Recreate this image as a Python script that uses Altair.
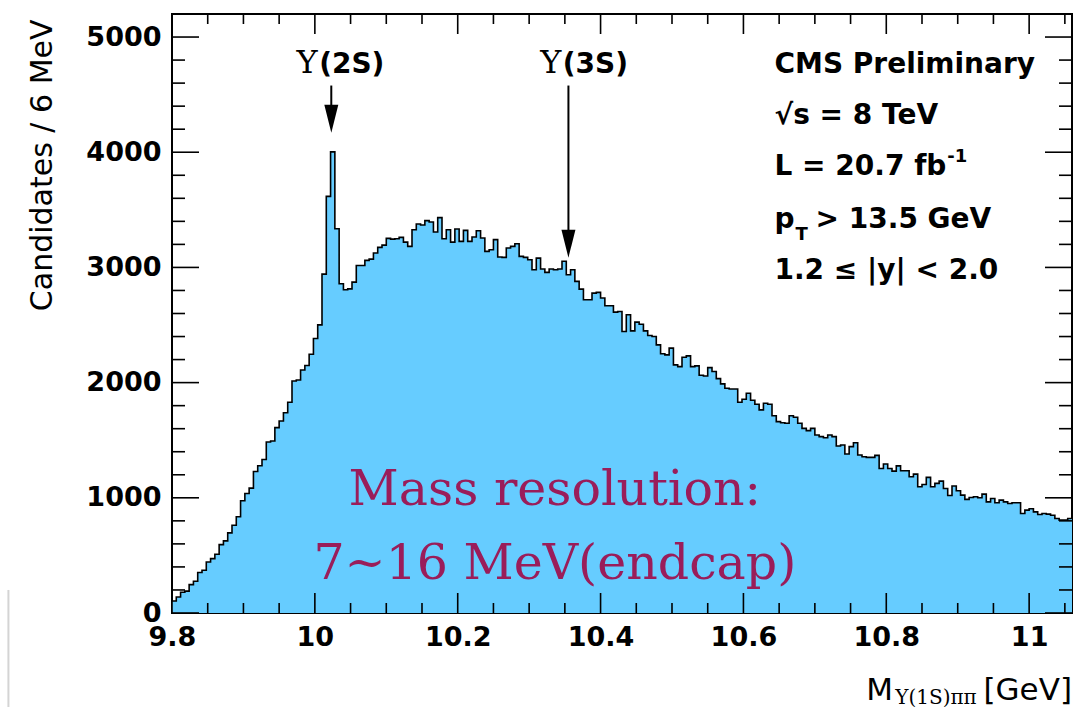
import altair as alt
import pandas as pd

# ---------------- data ----------------
bin_start = 9.8          # GeV
bin_width = 0.006        # GeV (6 MeV bins)

counts = [
    104, 139, 180, 190, 246, 275, 351, 371, 443, 472,
    510, 594, 626, 696, 762, 835, 974, 1038, 1084, 1229,
    1278, 1333, 1484, 1493, 1609, 1667, 1739, 1829, 2014, 2023,
    2110, 2148, 2246, 2383, 2501, 2942, 3617, 4003, 3336, 2858,
    2806, 2814, 2872, 3017, 3017, 3061, 3072, 3125, 3174, 3194,
    3252, 3246, 3249, 3261, 3220, 3183, 3327, 3377, 3368, 3406,
    3394, 3307, 3432, 3249, 3327, 3220, 3333, 3226, 3322, 3226,
    3264, 3319, 3255, 3139, 3154, 3241, 3090, 3087, 3168, 3183,
    3206, 3096, 3087, 3067, 2980, 3081, 2986, 2957, 2986, 2980,
    2986, 3053, 2937, 2980, 2879, 2812, 2719, 2719, 2777, 2783,
    2734, 2667, 2667, 2612, 2617, 2444, 2589, 2449, 2525, 2507,
    2449, 2409, 2400, 2328, 2250, 2241, 2299, 2154, 2139, 2220,
    2232, 2139, 2145, 2064, 2058, 2130, 2096, 2035, 1989, 1951,
    1945, 1945, 1830, 1856, 1908, 1847, 1812, 1763, 1821, 1812,
    1713, 1661, 1652, 1647, 1713, 1699, 1647, 1603, 1583, 1603,
    1545, 1531, 1522, 1545, 1531, 1450, 1458, 1380, 1444, 1478,
    1371, 1357, 1351, 1351, 1368, 1255, 1293, 1255, 1232, 1277,
    1235, 1235, 1183, 1206, 1096, 1116, 1177, 1096, 1125, 1145,
    1081, 1020, 1102, 1061, 1023, 986, 1003, 1009, 1000, 1032,
    965, 994, 957, 980, 965, 951, 957, 957, 864, 893,
    905, 878, 855, 864, 858, 849, 820, 806, 806, 820,
]

x_major = [9.8, 10.0, 10.2, 10.4, 10.6, 10.8, 11.0]
x_minor = [9.85, 9.9, 9.95, 10.05, 10.1, 10.15, 10.25, 10.3, 10.35, 10.45, 10.5,
           10.55, 10.65, 10.7, 10.75, 10.85, 10.9, 10.95, 11.05]
y_major = [0, 1000, 2000, 3000, 4000, 5000]
y_minor = [200, 400, 600, 800, 1200, 1400, 1600, 1800, 2200, 2400, 2600, 2800,
           3200, 3400, 3600, 3800, 4200, 4400, 4600, 4800, 5200]

peak_names = ["(2S)", "(3S)"]
peak_mass = [10.023, 10.355]

cms_lines = ["CMS Preliminary", "\u221as = 8 TeV", "L = 20.7 fb", "p", "1.2 \u2264 |y| < 2.0"]

# ---------------- layout ----------------
W, H = 900, 599
xs = alt.Scale(domain=[9.8, 11.06], nice=False, zero=False)
ys = alt.Scale(domain=[0, 5200], nice=False, zero=True)

edges = [round(bin_start + bin_width * i, 3) for i in range(len(counts) + 1)]
hist = pd.DataFrame({"x": edges, "y": counts + [counts[-1]]})

SANS = "DejaVu Sans"
SERIF = "DejaVu Serif"

x_axis = alt.Axis(values=x_major, format="~g", title=None, ticks=False, tickSize=0,
                  domain=False, grid=False, labelPadding=11, labelFont=SANS,
                  labelFontWeight="bold", labelFontSize=27, labelColor="black",
                  labelFlush=False, labelOverlap=False, labelBound=False)
y_axis = alt.Axis(values=y_major, format="d", title="Candidates / 6 MeV", ticks=False,
                  tickSize=0, domain=False, grid=False, labelPadding=11, labelFont=SANS,
                  labelFontWeight="bold", labelFontSize=27, labelColor="black",
                  labelFlush=False, labelOverlap=False, labelBound=False,
                  titleFont=SANS, titleFontSize=30, titleFontWeight="normal",
                  titleColor="black", titleAngle=270, titleAlign="right",
                  titleBaseline="alphabetic", titleX=-121, titleY=5)

area = alt.Chart(hist).mark_area(interpolate="step-after", color="#66ccff", opacity=1).encode(
    x=alt.X("x:Q", scale=xs, axis=x_axis),
    y=alt.Y("y:Q", scale=ys, axis=y_axis),
)
outline = alt.Chart(hist).mark_line(interpolate="step-after", color="black",
                                    strokeWidth=1.6).encode(
    x=alt.X("x:Q", scale=xs), y=alt.Y("y:Q", scale=ys))


def xticks(vals, length, top):
    y0, y1 = (0, length) if top else (H, H - length)
    return alt.Chart(pd.DataFrame({"x": vals})).mark_rule(color="black", strokeWidth=1.6).encode(
        x=alt.X("x:Q", scale=xs), y=alt.value(y0), y2=alt.value(y1))


def yticks(vals, length, right):
    x0, x1 = (W, W - length) if right else (0, length)
    return alt.Chart(pd.DataFrame({"y": vals})).mark_rule(color="black", strokeWidth=1.6).encode(
        y=alt.Y("y:Q", scale=ys), x=alt.value(x0), x2=alt.value(x1))


ticks = [
    xticks(x_major, 20, False), xticks(x_minor, 10, False),
    xticks(x_major, 20, True), xticks(x_minor, 10, True),
    yticks(y_major, 27, False), yticks(y_minor, 13, False),
    yticks(y_major, 27, True), yticks(y_minor, 13, True),
]


def text(rows, **kw):
    df = pd.DataFrame(rows, columns=["x", "y", "t"])
    base = dict(color="black", baseline="alphabetic", align="left")
    base.update(kw)
    return alt.Chart(df).mark_text(**base).encode(
        x=alt.X("x:Q", scale=xs), y=alt.Y("y:Q", scale=ys), text="t:N")


# peak labels:  Υ (serif) + (2S)/(3S) bold sans
ups = text([[10.004, 4684, "\u03a5"], [10.345, 4684, "\u03a5"]],
           font=SERIF, fontSize=32, align="right")
peak_lbl = text([[10.006, 4684, peak_names[0]], [10.347, 4684, peak_names[1]]],
                font=SANS, fontWeight="bold", fontSize=28)

# arrows
shafts = alt.Chart(pd.DataFrame({"x": peak_mass, "y": [4579, 4579], "y2": [4400, 3300]})).mark_rule(
    color="black", strokeWidth=2).encode(
    x=alt.X("x:Q", scale=xs), y=alt.Y("y:Q", scale=ys), y2="y2:Q")
heads = alt.Chart(pd.DataFrame({"x": peak_mass, "y": [4170, 3085]})).mark_point(
    shape="M -0.5 -2 L 0.5 -2 L 0 0 Z", filled=True, color="black", opacity=1,
    size=784, strokeWidth=0).encode(
    x=alt.X("x:Q", scale=xs), y=alt.Y("y:Q", scale=ys))

# CMS block
cms = text([[10.6435, 4692, cms_lines[0]], [10.6435, 4249, cms_lines[1]],
            [10.6435, 3806, cms_lines[2]], [10.6435, 3345, cms_lines[3]],
            [10.6435, 2902, cms_lines[4]], [10.701, 3345, "> 13.5 GeV"]],
           font=SANS, fontWeight="bold", fontSize=28)
cms_small = text([[10.8853, 3915, "-1"], [10.6728, 3241, "T"]],
                 font=SANS, fontWeight="bold", fontSize=18)

# mass resolution note
note = text([[10.336, 937, "Mass resolution:"], [10.336, 292, "7~16 MeV(endcap)"]],
            font=SERIF, fontSize=49, align="center", color="#9a1d5a")

# x-axis title  M_{Υ(1S)ππ} [GeV]
xt_main = text([[10.772, -752, "M"]], font=SANS, fontSize=31)
xt_sub = text([[10.8125, -792, "\u03a5(1S)\u03c0\u03c0"]], font=SERIF, fontSize=20)
xt_unit = text([[11.06, -752, "[GeV]"]], font=SANS, fontSize=31, align="right")

# slide border line at bottom left
border = alt.Chart(pd.DataFrame({"x": [9.571], "y": [200], "y2": [-830]})).mark_rule(
    color="#d4d4d4", strokeWidth=2).encode(
    x=alt.X("x:Q", scale=xs), y=alt.Y("y:Q", scale=ys), y2="y2:Q")

chart = alt.layer(
    area, outline, *ticks, ups, peak_lbl, shafts, heads, cms, cms_small, note,
    xt_main, xt_sub, xt_unit, border,
).properties(
    width=W, height=H,
    autosize=alt.AutoSizeParams(type="none"),
    padding={"left": 172, "top": 14, "right": 5, "bottom": 94},
    background="white",
).configure_view(stroke="black", strokeWidth=2)

chart.save("out.html", embed_options={"renderer": "svg", "actions": False})
